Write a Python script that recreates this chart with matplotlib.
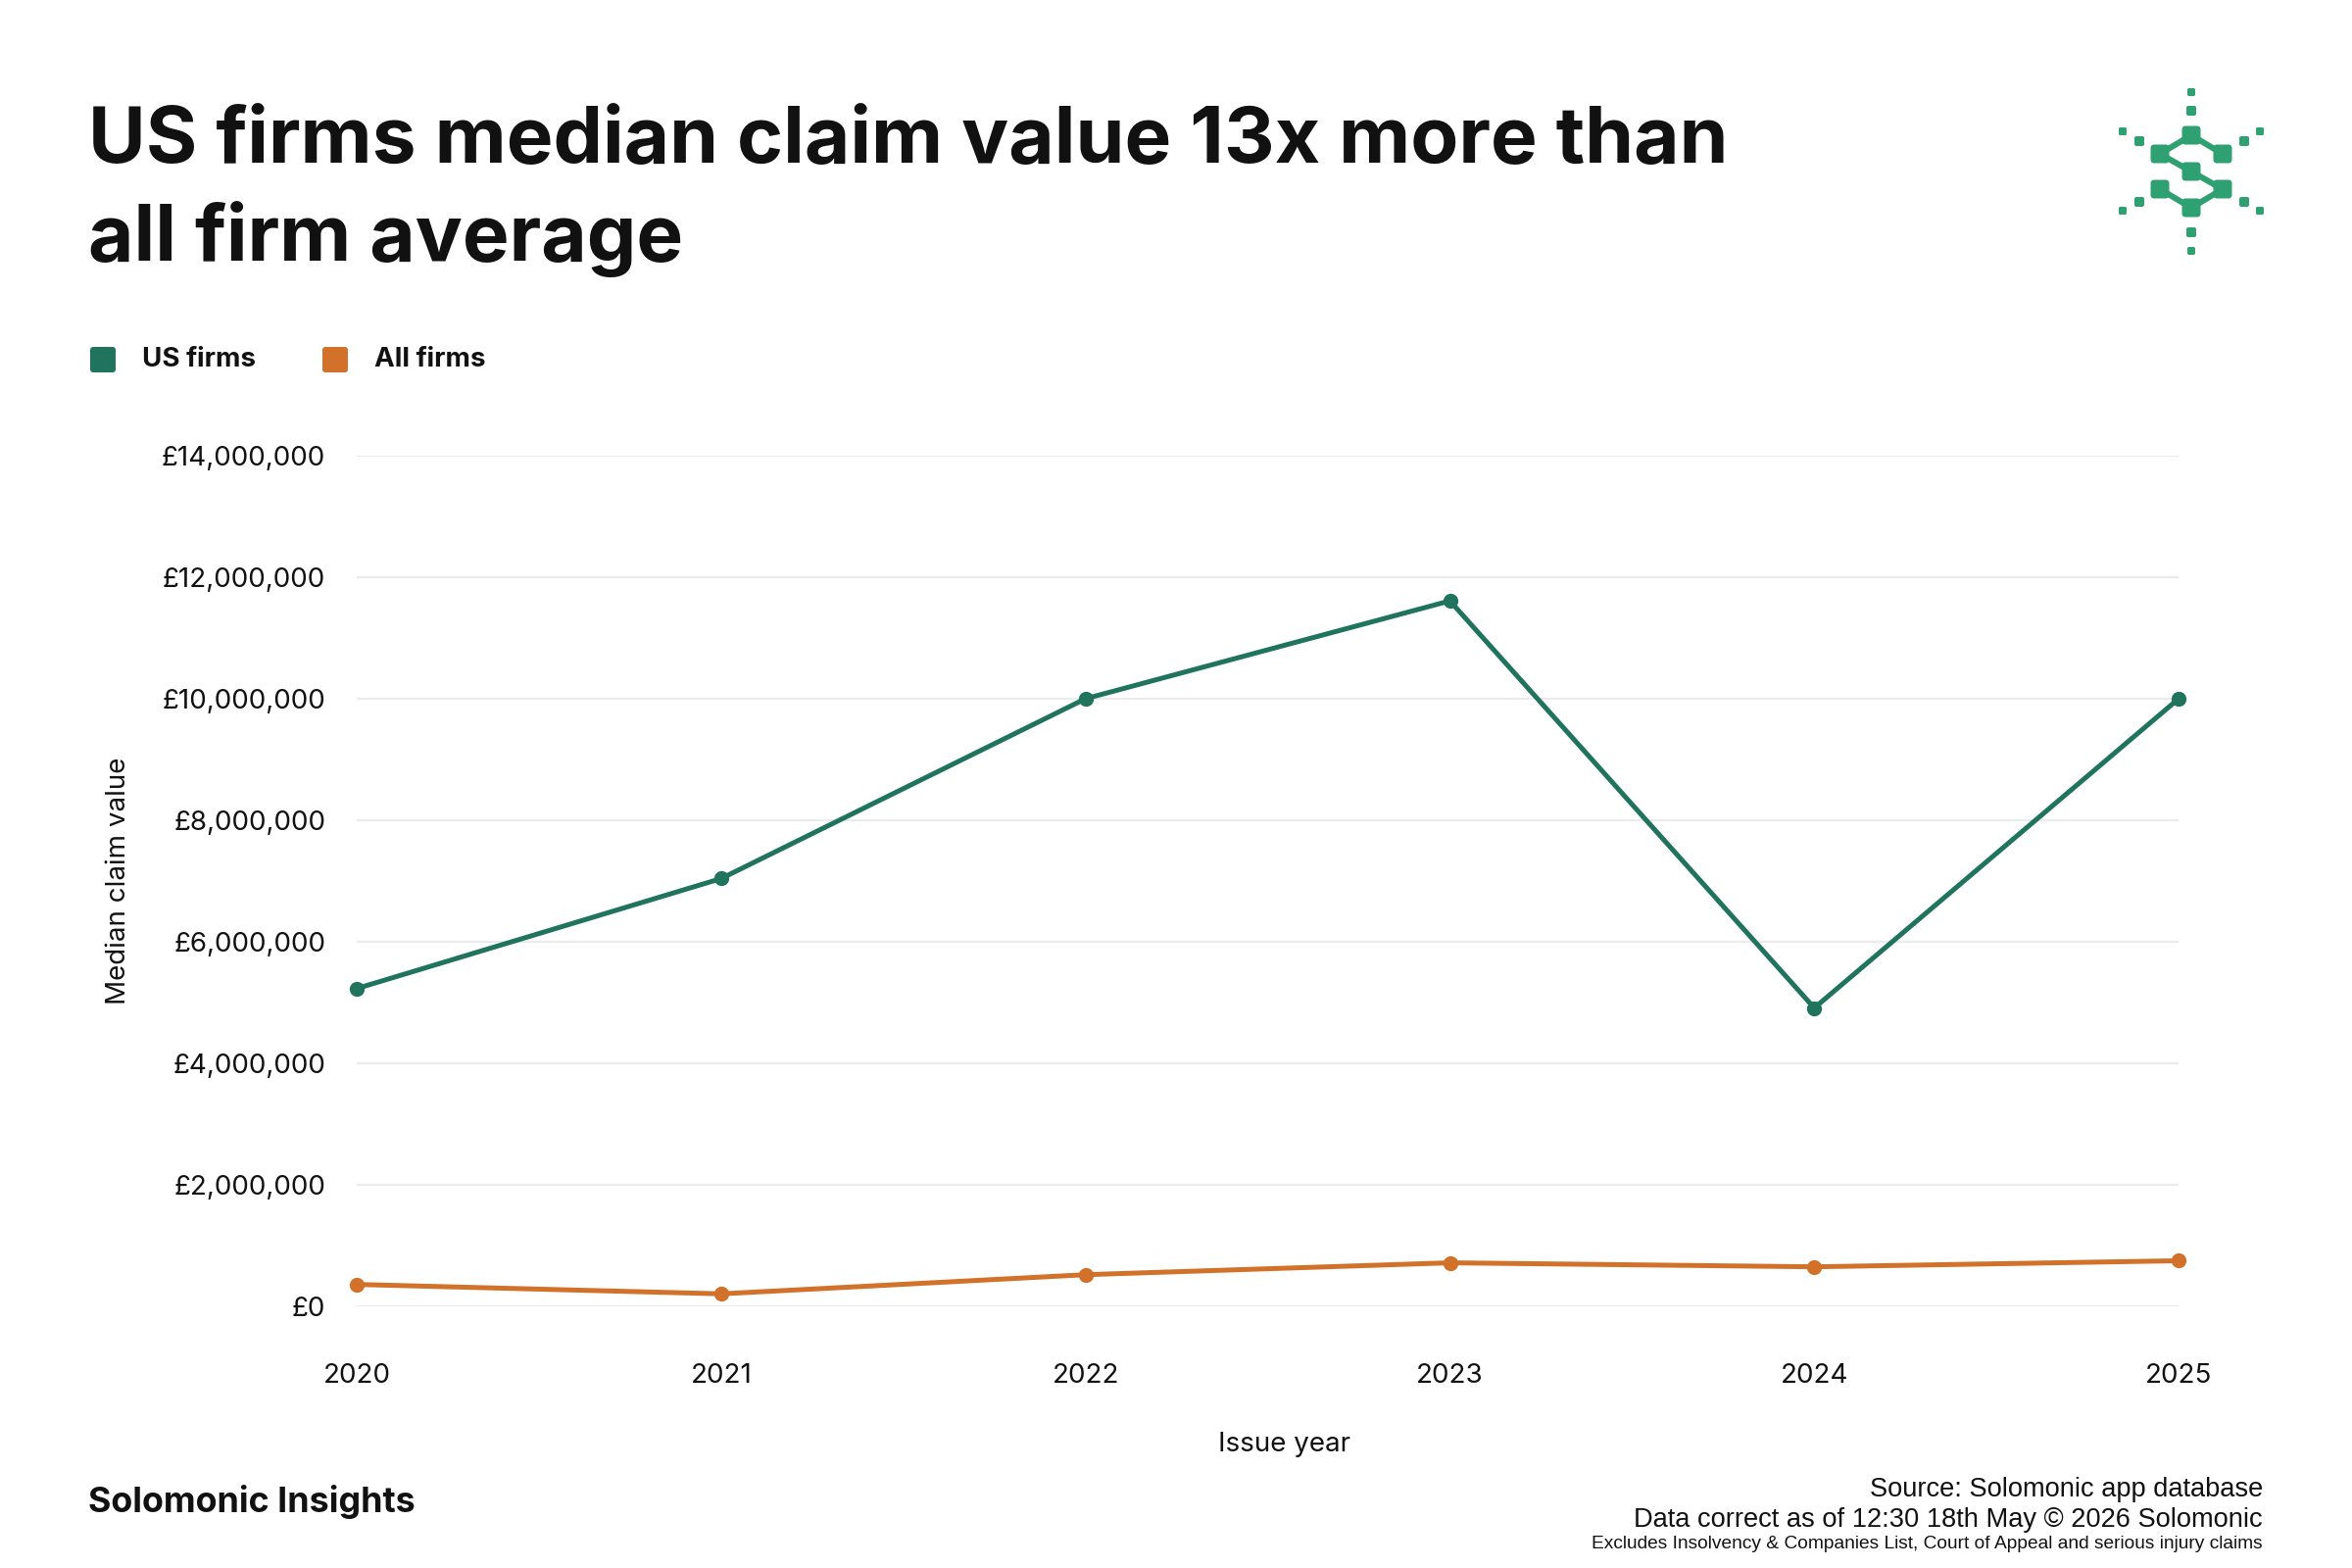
import matplotlib
matplotlib.use("Agg")
import matplotlib.pyplot as plt
from matplotlib.patches import FancyBboxPatch
from matplotlib.ticker import FuncFormatter

years = [2020, 2021, 2022, 2023, 2024, 2025]
us_firms = [5230000, 7040000, 10000000, 11610000, 4910000, 10000000]
all_firms = [360000, 205000, 520000, 716000, 650000, 750000]
y_ticks = [0, 2000000, 4000000, 6000000, 8000000, 10000000, 12000000, 14000000]

US_COLOR = "#20745E"
ALL_COLOR = "#D2722A"
LOGO_COLOR = "#2FA071"
TEXT = "#111111"

plt.rcParams["font.family"] = ["Inter", "DejaVu Sans"]

fig = plt.figure(figsize=(12, 8), dpi=200)
fig.patch.set_facecolor("white")

ax = fig.add_axes([0.1517, 0.1669, 0.7746, 0.5425])
ax.plot(years, us_firms, color=US_COLOR, linewidth=1.8, marker="o",
        markersize=4.5, clip_on=False, zorder=3, label="US firms")
ax.plot(years, all_firms, color=ALL_COLOR, linewidth=1.8, marker="o",
        markersize=4.5, clip_on=False, zorder=3, label="All firms")

ax.set_xlim(2020, 2025)
ax.set_ylim(0, 14000000)
ax.set_xticks(years)
ax.set_yticks(y_ticks)
ax.yaxis.set_major_formatter(FuncFormatter(lambda v, p: "£{:,.0f}".format(v)))
ax.grid(axis="y", color="#ebebeb", linewidth=0.8)
ax.set_axisbelow(True)
for s in ax.spines.values():
    s.set_visible(False)
ax.tick_params(axis="both", length=0, labelsize=10, labelcolor=TEXT)
ax.tick_params(axis="y", pad=11.5)
ax.tick_params(axis="x", pad=21)

ax.set_ylabel("Median claim value", fontsize=10, color=TEXT)
ax.set_xlabel("Issue year", fontsize=10, color=TEXT)
ax.yaxis.set_label_coords(-0.124, 0.5)
ax.xaxis.set_label_coords(0.509, -0.147)

# overlay in pixel coordinates for header, legend, footer and logo
ov = fig.add_axes([0, 0, 1, 1], facecolor="none")
ov.set_xlim(0, 2400)
ov.set_ylim(1600, 0)
ov.axis("off")

ov.text(90, 145, "US firms median claim value 13x more than", fontsize=28.9,
        fontweight="bold", color=TEXT, va="center", ha="left")
ov.text(90, 244, "all firm average", fontsize=28.9,
        fontweight="bold", color=TEXT, va="center", ha="left")

# legend
for x0, col, lab in [(90, US_COLOR, "US firms"), (327, ALL_COLOR, "All firms")]:
    ov.add_patch(FancyBboxPatch((x0 + 2, 354), 26, 26,
                                boxstyle="round,pad=0,rounding_size=3",
                                facecolor=col, edgecolor="none"))
    ov.text(x0 + 55, 367, lab, fontsize=10, fontweight="bold", color=TEXT,
            va="center", ha="left")

# footer
ov.text(90, 1532, "Solomonic Insights", fontsize=12.9, fontweight="bold",
        color=TEXT, va="center", ha="left")
foot = ["Liberation Sans", "DejaVu Sans"]
ov.text(2309, 1520, "Source: Solomonic app database", fontsize=9.8,
        family=foot, color=TEXT, va="center", ha="right")
ov.text(2309, 1551, "Data correct as of 12:30 18th May \u00a9 2026 Solomonic",
        fontsize=9.8, family=foot, color=TEXT, va="center", ha="right")
ov.text(2309, 1576,
        "Excludes Insolvency & Companies List, Court of Appeal and serious injury claims",
        fontsize=6.9, family=foot, color=TEXT, va="center", ha="right")

# logo
links = [[(2204, 157), (2236, 138), (2268, 157)],
         [(2204, 157), (2236, 175), (2268, 193)],
         [(2204, 193), (2236, 212), (2268, 193)]]
for seg in links:
    ov.plot([p[0] for p in seg], [p[1] for p in seg], color=LOGO_COLOR,
            linewidth=2.2, solid_capstyle="round")
squares = [((2236, 138), 19), ((2204, 157), 19), ((2268, 157), 19),
           ((2236, 175), 19), ((2204, 193), 19), ((2268, 193), 19),
           ((2236, 212), 19),
           ((2236, 113), 10), ((2183, 144), 10), ((2290, 144), 10),
           ((2183, 206), 10), ((2290, 206), 10), ((2236, 237), 10),
           ((2236, 94), 8), ((2166, 134), 8), ((2306, 134), 8),
           ((2166, 215), 8), ((2306, 215), 8), ((2236, 256), 8)]
for (cx, cy), sz in squares:
    ov.add_patch(FancyBboxPatch((cx - sz / 2, cy - sz / 2), sz, sz,
                                boxstyle="round,pad=0,rounding_size=%.1f" % (sz * 0.2),
                                facecolor=LOGO_COLOR, edgecolor="none"))

fig.savefig("out.png", dpi=200, facecolor="white")
